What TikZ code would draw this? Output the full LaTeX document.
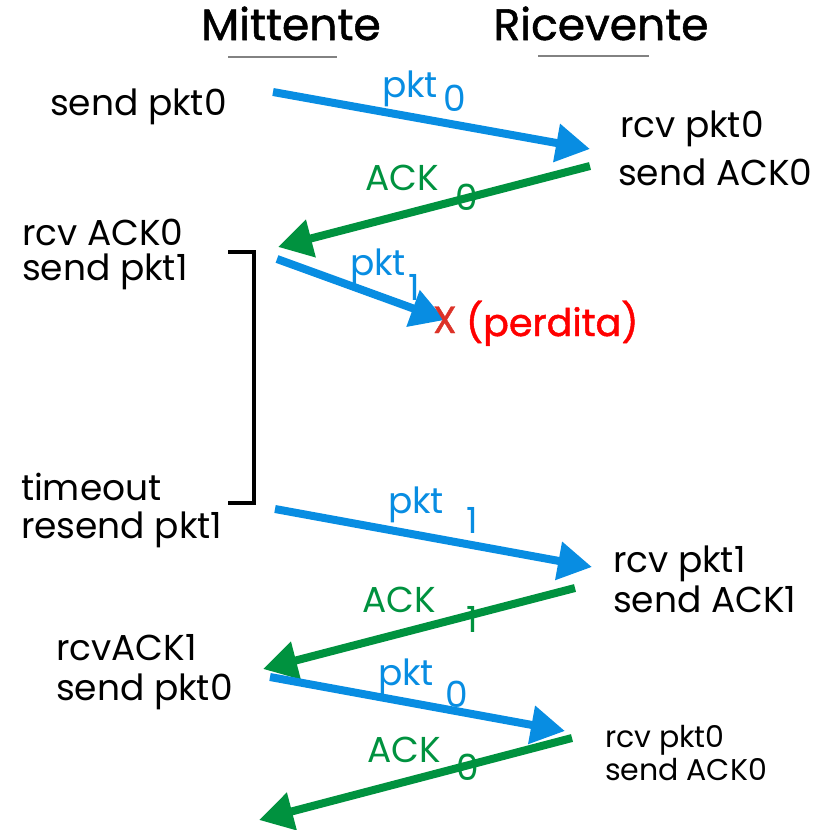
\documentclass[tikz,border=0pt]{standalone}
\usepackage{fontspec}
\setmainfont{Poppins}
\newfontfamily\headfont{Poppins}[FakeBold=1.2]
\usetikzlibrary{arrows.meta}
\definecolor{pktblue}{RGB}{8,141,226}
\definecolor{ackgreen}{RGB}{0,146,63}
\definecolor{lossred}{RGB}{220,50,40}
\definecolor{rulegray}{RGB}{130,130,130}
\tikzset{
  every node/.style={inner sep=0pt, outer sep=0pt},
  head/.style={anchor=base, font=\headfont\fontsize{44}{44}\selectfont},
  evt/.style={anchor=base west, font=\fontsize{36}{36}\selectfont},
  evtsmall/.style={anchor=base west, font=\fontsize{30}{30}\selectfont},
  lbl/.style={anchor=base west, font=\fontsize{36}{36}\selectfont},
  pktlbl/.style={lbl, text=pktblue},
  acklbl/.style={lbl, text=ackgreen},
  msg/.style={line width=8pt, -{Triangle[length=34pt,width=37pt]}},
  pktmsg/.style={msg, draw=pktblue},
  ackmsg/.style={msg, draw=ackgreen},
}
\begin{document}
\begin{tikzpicture}[x=1pt, y=-1pt]
\useasboundingbox (0,0) rectangle (828,830);

% column headings
\node[head] (mitt) at (291,40) {Mittente};
\node[head] (ricv) at (601,40) {Ricevente};
\coordinate (ul1a) at (228,57); \coordinate (ul1b) at (337,57);
\coordinate (ul2a) at (538,56); \coordinate (ul2b) at (649,56);
\draw[rulegray, line width=1.5pt] (ul1a) -- (ul1b);
\draw[rulegray, line width=1.5pt] (ul2a) -- (ul2b);

% events at the sender
\node[evt] (sp0)  at (50,115)  {send pkt0};
\node[evt] (ra0)  at (22,245)  {rcv ACK0};
\node[evt] (sp1)  at (22,280)  {send pkt1};
\node[evt] (tout) at (21,500)  {timeout};
\node[evt] (rs1)  at (21,538)  {resend pkt1};
\node[evt] (ra1)  at (56,660)  {rcvACK1};
\node[evt] (sp0b) at (56,700)  {send pkt0};

% events at the receiver
\node[evt] (rp0)  at (620,137) {rcv pkt0};
\node[evt] (sa0)  at (618,185) {send ACK0};
\node[evt] (rp1)  at (613,572) {rcv pkt1};
\node[evt] (sa1)  at (613,612) {send ACK1};
\node[evtsmall] (rp0b) at (605,747) {rcv pkt0};
\node[evtsmall] (sa0b) at (605,780) {send ACK0};

% message end points
\coordinate (m1s) at (273,92);  \coordinate (m1e) at (590,149);
\coordinate (m2s) at (590,166); \coordinate (m2e) at (278,247);
\coordinate (m3s) at (277,259); \coordinate (m3e) at (445,320);
\coordinate (m4s) at (275,509); \coordinate (m4e) at (592,567);
\coordinate (m5s) at (575,588); \coordinate (m5e) at (263,669);
\coordinate (m6s) at (270,677); \coordinate (m6e) at (565,731);
\coordinate (m7s) at (572,738); \coordinate (m7e) at (259,820);

% timeout bracket
\coordinate (bt1) at (228,252); \coordinate (bt2) at (254,252);
\coordinate (bb2) at (254,503); \coordinate (bb1) at (228,503);
\draw[black, line width=4.5pt] (bt1) -- (bt2) -- (bb2) -- (bb1);

% messages
\draw[pktmsg] (m1s) -- (m1e);
\draw[ackmsg] (m2s) -- (m2e);
\draw[pktmsg] (m3s) -- (m3e);
\draw[pktmsg] (m4s) -- (m4e);
\draw[ackmsg] (m5s) -- (m5e);
\draw[pktmsg] (m6s) -- (m6e);
\draw[ackmsg] (m7s) -- (m7e);

% message labels
\node[pktlbl] (l1) at (382,97)  {pkt};  \node[pktlbl] (l1n) at (443,111) {0};
\node[acklbl] (l2) at (365,190) {ACK};  \node[acklbl] (l2n) at (455,210) {0};
\node[pktlbl] (l3) at (350,275) {pkt};  \node[pktlbl] (l3n) at (408,300) {1};
\node[pktlbl] (l4) at (388,513) {pkt};  \node[pktlbl] (l4n) at (466,533) {1};
\node[acklbl] (l5) at (362,612) {ACK};  \node[acklbl] (l5n) at (466,632) {1};
\node[pktlbl] (l6) at (378,685) {pkt};  \node[pktlbl] (l6n) at (445,707) {0};
\node[acklbl] (l7) at (367,762) {ACK};  \node[acklbl] (l7n) at (456,780) {0};

% lost packet
\node[anchor=base west, text=lossred, font=\headfont\fontsize{38}{38}\selectfont] (lx) at (433,333) {X};
\node[anchor=base west, text=red, font=\headfont\fontsize{38}{38}\selectfont] (lost) at (466,336) {(perdita)};
\end{tikzpicture}
\end{document}
